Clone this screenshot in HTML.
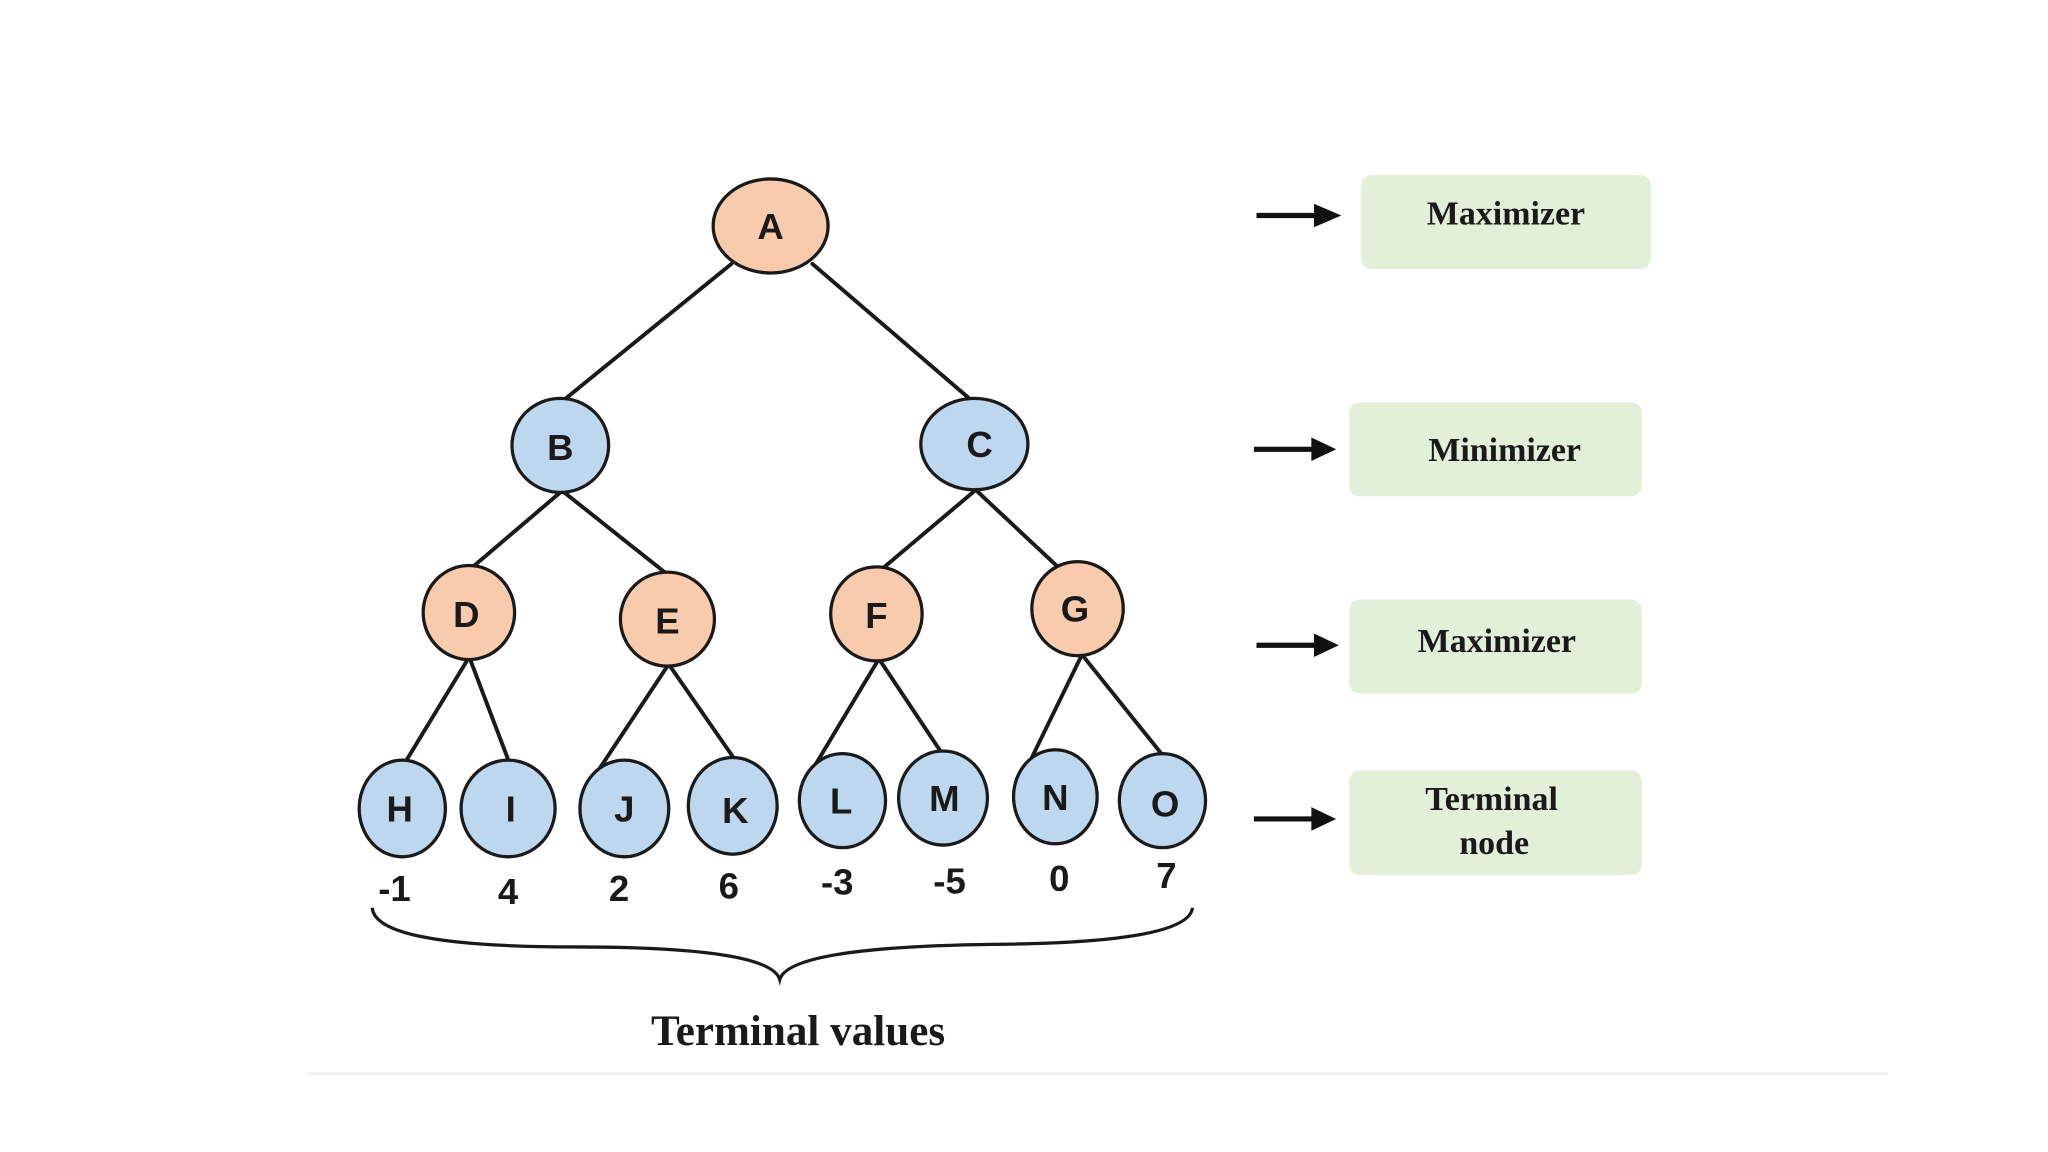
<!DOCTYPE html>
<html><head><style>html,body{margin:0;padding:0;background:#fff;}svg{display:block;}</style></head>
<body>
<svg width="2048" height="1152" viewBox="0 0 1568 882" xmlns="http://www.w3.org/2000/svg">
<rect width="1568" height="882" fill="#fff"/>
<line x1="235" y1="822" x2="1445" y2="822" stroke="#f0f0f0" stroke-width="2"/>
<g stroke="#1a1a1a" stroke-width="3" stroke-linecap="round">
<line x1="560" y1="202" x2="432" y2="306"/>
<line x1="622" y1="202" x2="742" y2="305"/>
<line x1="429" y1="377" x2="362" y2="434"/>
<line x1="432" y1="377" x2="510" y2="439"/>
<line x1="746" y1="376" x2="676" y2="435"/>
<line x1="748" y1="376" x2="812" y2="436"/>
<line x1="358" y1="505" x2="310" y2="584"/>
<line x1="360" y1="505" x2="390" y2="584"/>
<line x1="511" y1="510" x2="458" y2="590"/>
<line x1="513" y1="510" x2="565" y2="585"/>
<line x1="672" y1="506" x2="624" y2="586"/>
<line x1="674" y1="506" x2="722" y2="578"/>
<line x1="828" y1="502" x2="790" y2="580"/>
<line x1="829" y1="502" x2="890" y2="578"/>
</g>
<g stroke="#1a1a1a" stroke-width="2.5">
<ellipse cx="590" cy="173" rx="44" ry="36" fill="#f8cbad"/>
<ellipse cx="429" cy="341" rx="37" ry="36" fill="#bdd7ee"/>
<ellipse cx="746" cy="340" rx="41" ry="35" fill="#bdd7ee"/>
<ellipse cx="359" cy="469" rx="35" ry="36" fill="#f8cbad"/>
<ellipse cx="511" cy="474" rx="36" ry="36" fill="#f8cbad"/>
<ellipse cx="671" cy="470" rx="35" ry="36" fill="#f8cbad"/>
<ellipse cx="825" cy="466" rx="35" ry="36" fill="#f8cbad"/>
<ellipse cx="308" cy="619" rx="33" ry="37" fill="#bdd7ee"/>
<ellipse cx="389" cy="619" rx="36" ry="37" fill="#bdd7ee"/>
<ellipse cx="478" cy="619" rx="34" ry="37" fill="#bdd7ee"/>
<ellipse cx="561" cy="617" rx="34" ry="37" fill="#bdd7ee"/>
<ellipse cx="645" cy="613" rx="33" ry="36" fill="#bdd7ee"/>
<ellipse cx="722" cy="611" rx="34" ry="36" fill="#bdd7ee"/>
<ellipse cx="808" cy="610" rx="32" ry="36" fill="#bdd7ee"/>
<ellipse cx="890" cy="613" rx="33" ry="36" fill="#bdd7ee"/>
</g>
<g font-family="Liberation Sans, sans-serif" font-weight="bold" font-size="28" fill="#1a1a1a" text-anchor="middle">
<text x="590" y="183">A</text>
<text x="429" y="352">B</text>
<text x="750" y="350">C</text>
<text x="357" y="480">D</text>
<text x="511" y="485">E</text>
<text x="671" y="481">F</text>
<text x="823" y="476">G</text>
<text x="306" y="629">H</text>
<text x="391" y="629">I</text>
<text x="478" y="629">J</text>
<text x="563" y="630">K</text>
<text x="644" y="623">L</text>
<text x="723" y="621">M</text>
<text x="808" y="620">N</text>
<text x="892" y="625">O</text>
<text x="302" y="690">-1</text>
<text x="389" y="692">4</text>
<text x="474" y="690">2</text>
<text x="558" y="688">6</text>
<text x="641" y="685">-3</text>
<text x="727" y="684">-5</text>
<text x="811" y="682">0</text>
<text x="893" y="680">7</text>
</g>
<path d="M285 695 Q287 725 440 725 Q590 725 597 750 Q604 725 760 723 Q910 722 913 695" fill="none" stroke="#1a1a1a" stroke-width="2.5"/>
<text x="611" y="800" font-family="Liberation Serif, serif" font-weight="bold" font-size="33" fill="#1a1a1a" text-anchor="middle">Terminal values</text>
<g fill="#e2efd9">
<rect x="1042" y="134" width="222" height="72" rx="8"/>
<rect x="1033" y="308" width="224" height="72" rx="8"/>
<rect x="1033" y="459" width="224" height="72" rx="8"/>
<rect x="1033" y="590" width="224" height="80" rx="8"/>
</g>
<g stroke="#111" stroke-width="4">
<line x1="962" y1="165" x2="1010" y2="165"/>
<line x1="960" y1="344" x2="1008" y2="344"/>
<line x1="962" y1="494" x2="1010" y2="494"/>
<line x1="960" y1="627" x2="1008" y2="627"/>
</g>
<g fill="#111">
<polygon points="1006,156 1027,165 1006,174"/>
<polygon points="1004,335 1023,344 1004,353"/>
<polygon points="1006,485 1025,494 1006,503"/>
<polygon points="1004,618 1023,627 1004,636"/>
</g>
<g font-family="Liberation Serif, serif" font-weight="bold" font-size="26" fill="#1a1a1a" text-anchor="middle">
<text x="1153" y="172">Maximizer</text>
<text x="1152" y="353">Minimizer</text>
<text x="1146" y="499">Maximizer</text>
<text x="1142" y="620">Terminal</text>
<text x="1144" y="654">node</text>
</g>
</svg>
</body></html>
